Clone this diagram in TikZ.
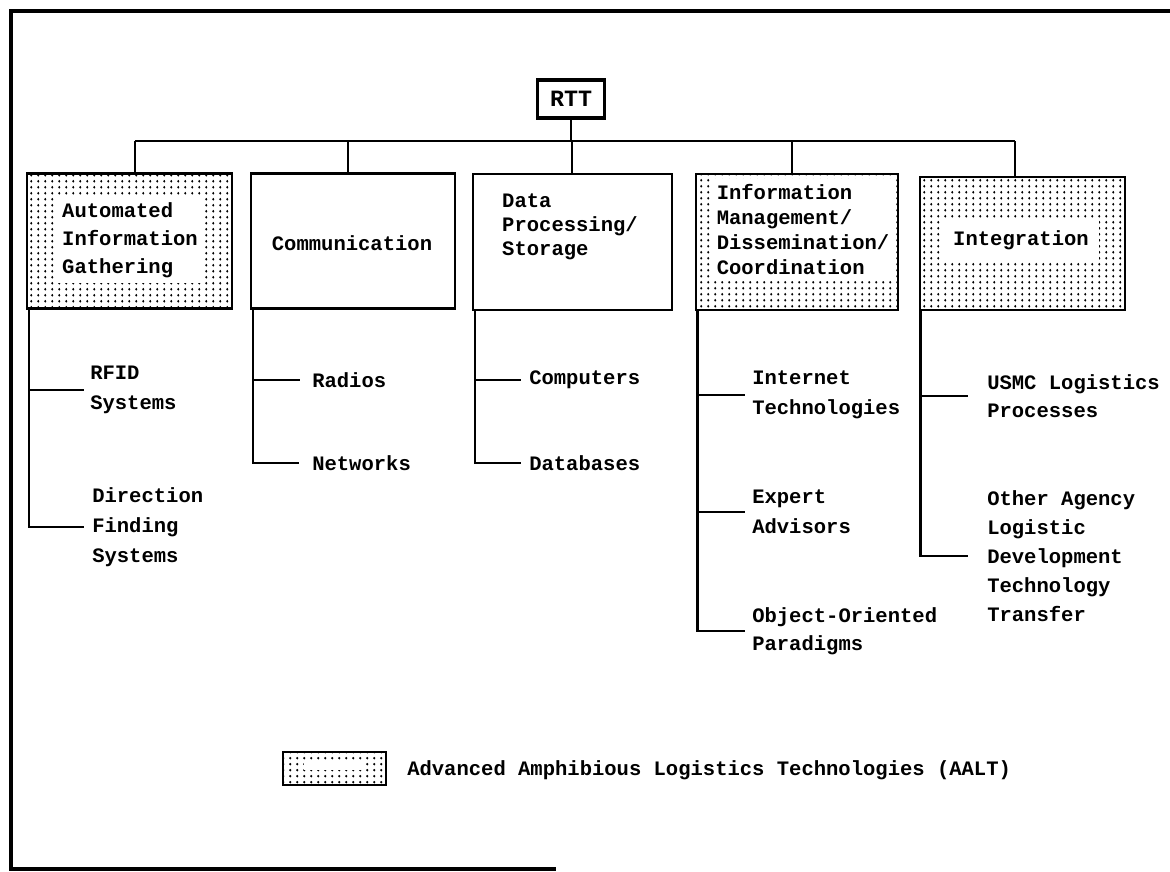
\documentclass[tikz,border=0pt]{standalone}
\usepackage{fontspec}
\newfontfamily\labfont{Liberation Mono}
\usetikzlibrary{patterns.meta}
\def\pu{0.75pt}
\tikzdeclarepattern{
  name=aaltdots,
  type=uncolored,
  bounding box={(0pt,0pt) and (5.4pt,4.3pt)},
  tile size={(5.4pt,4.3pt)},
  code={\pgfpathcircle{\pgfqpoint{2.7pt}{2.15pt}}{1pt}\pgfusepath{fill}}
}
\begin{document}
\begin{tikzpicture}[x=0.75pt,y=-0.75pt,
  box/.style={draw, line width=2.1pt, minimum width=205*\pu, minimum height=135*\pu, inner sep=0pt, outer sep=0pt},
  aalt/.style={box, pattern=aaltdots, pattern color=black},
  lbl/.style={font=\labfont\bfseries\fontsize{15.4}{22.5}\selectfont, align=left, inner sep=0pt},
  boxlbl/.style={lbl, fill=white, inner xsep=4pt, inner ysep=4pt},
  conn/.style={line width=1.9pt},
  frameline/.style={line width=2.3pt}]
\useasboundingbox (0,0) rectangle (1170,871);
% frame
\draw[frameline] (1170,11) -- (11,11) -- (11,869) -- (556,869);
% root
\node[draw, line width=2.5pt, minimum width=67*\pu, minimum height=38*\pu, inner sep=0pt,
      font=\labfont\bfseries\fontsize{17.5}{20}\selectfont] (rtt) at (571,99) {RTT};
\coordinate (bar) at (571,141);
\coordinate (d1) at (135,141);
\coordinate (d2) at (348,141);
\coordinate (d3) at (572,141);
\coordinate (d4) at (792,141);
\coordinate (d5) at (1015,141);
% boxes
\node[aalt] (b1) at (129.5,241) {};
\node[box, minimum width=204*\pu] (b2) at (353,241) {};
\node[box, minimum width=199*\pu, minimum height=136*\pu] (b3) at (572.5,242) {};
\node[aalt, minimum width=202*\pu, minimum height=136*\pu] (b4) at (797,242) {};
\node[aalt, minimum height=133*\pu] (b5) at (1022.5,243.5) {};
% box labels
\node[boxlbl, font=\labfont\bfseries\fontsize{15.4}{21}\selectfont] (t1) at (130,240) {Automated\\Information\\Gathering};
\node[boxlbl] (t2) at (352,243) {Communication};
\node[boxlbl, font=\labfont\bfseries\fontsize{15.4}{18}\selectfont] (t3) at (570,227) {Data\\Processing/\\Storage};
\node[boxlbl, inner xsep=2pt, font=\labfont\bfseries\fontsize{15.4}{18.75}\selectfont] (t4) at (803,230) {Information\\Management/\\Dissemination/\\Coordination};
\node[boxlbl, inner xsep=8pt, inner ysep=8pt] (t5) at (1021,240) {Integration};
% tree connectors
\draw[conn] (rtt.south) -- (bar);
\draw[conn] (d1) -- (d5);
\draw[conn] (d1) -- (d1 |- b1.north);
\draw[conn] (d2) -- (d2 |- b2.north);
\draw[conn] (d3) -- (d3 |- b3.north);
\draw[conn] (d4) -- (d4 |- b4.north);
\draw[conn] (d5) -- (d5 |- b5.north);
% sub items
\node[lbl, anchor=west] (s11) at (90,390) {RFID\\Systems};
\node[lbl, anchor=west] (s12) at (92,527) {Direction\\Finding\\Systems};
\node[lbl, anchor=west] (s21) at (312,380) {Radios};
\node[lbl, anchor=west] (s22) at (312,463) {Networks};
\node[lbl, anchor=west] (s31) at (529,380) {Computers};
\node[lbl, anchor=west] (s32) at (529,463) {Databases};
\node[lbl, anchor=west] (s41) at (752,395) {Internet\\Technologies};
\node[lbl, anchor=west] (s42) at (752,512) {Expert\\Advisors};
\node[lbl, anchor=west, font=\labfont\bfseries\fontsize{15.4}{21}\selectfont] (s43) at (752,631) {Object-Oriented\\Paradigms};
\node[lbl, anchor=west, font=\labfont\bfseries\fontsize{15.4}{21}\selectfont] (s51) at (987,396) {USMC Logistics\\Processes};
\node[lbl, anchor=west, font=\labfont\bfseries\fontsize{15.4}{21.75}\selectfont] (s52) at (987,556) {Other Agency\\Logistic\\Development\\Technology\\Transfer};
% branches
\draw[conn] ([xshift=1.5pt]b1.south west) |- ([xshift=-4.5pt]s11.west);
\draw[conn] ([xshift=1.5pt]b1.south west) |- ([xshift=-6pt]s12.west);
\draw[conn] ([xshift=1.5pt]b2.south west) |- ([xshift=-9pt]s21.west);
\draw[conn] ([xshift=1.5pt]b2.south west) |- ([xshift=-9.5pt]s22.west);
\draw[conn] ([xshift=1.5pt]b3.south west) |- ([xshift=-6pt]s31.west);
\draw[conn] ([xshift=1.5pt]b3.south west) |- ([xshift=-6pt]s32.west);
\draw[conn] ([xshift=1pt]b4.south west) |- ([xshift=-5pt]s41.west);
\draw[conn] ([xshift=1pt]b4.south west) |- ([xshift=-5pt]s42.west);
\draw[conn] ([xshift=1pt]b4.south west) |- ([xshift=-5pt]s43.west);
\draw[conn] ([xshift=0.5pt]b5.south west) |- ([xshift=-14pt]s51.west);
\draw[conn] ([xshift=0.5pt]b5.south west) |- ([xshift=-14pt]s52.west);
% legend
\node[aalt, minimum width=103*\pu, minimum height=33*\pu] (leg) at (334.5,768.5) {};
\node[fill=white, inner sep=0pt, minimum width=61*\pu, minimum height=8*\pu] (legpatch) at (334.5,766) {};
\node[lbl, anchor=west] (legtxt) at (407,770) {Advanced Amphibious Logistics Technologies (AALT)};
\end{tikzpicture}
\end{document}
